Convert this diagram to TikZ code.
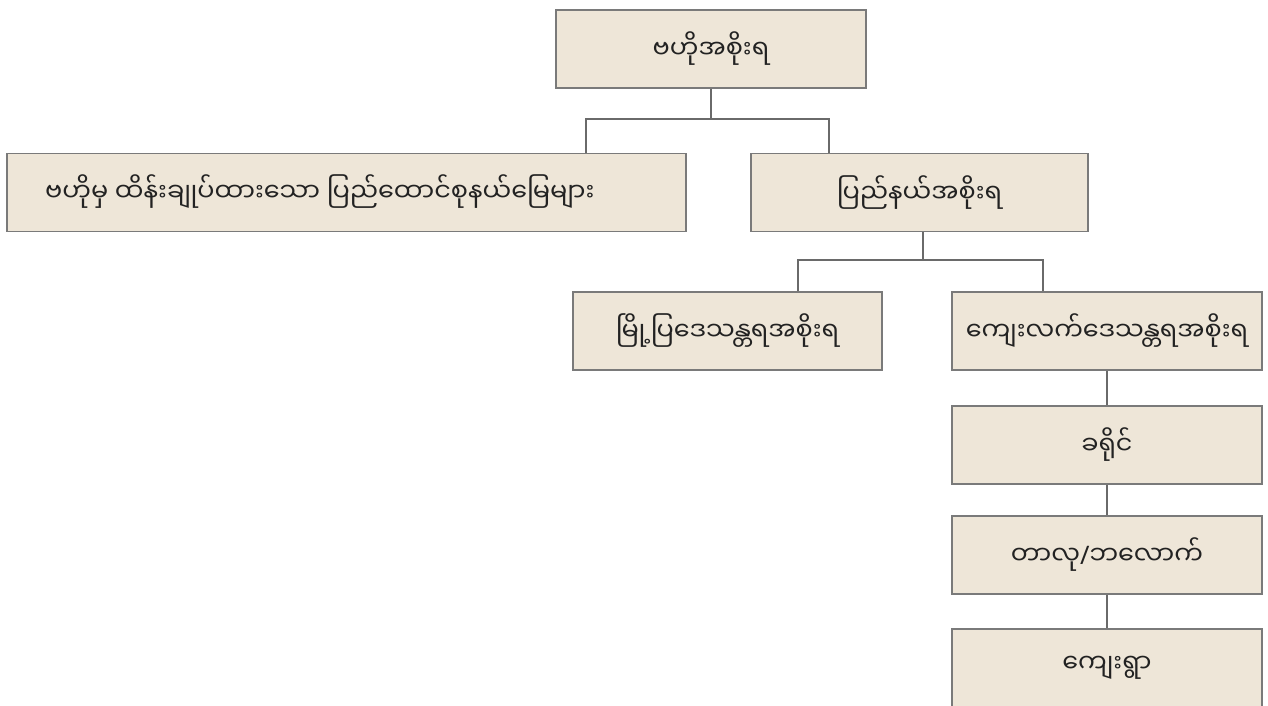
\documentclass[tikz,border=0pt]{standalone}
\usepackage{fontspec}
\newfontfamily\mmfont[Script=Myanmar]{Noto Sans Myanmar UI}
\newfontfamily\latinfont{Noto Sans}
\definecolor{boxfill}{HTML}{EEE6D8}
\definecolor{boxline}{HTML}{7A7A7A}
\definecolor{linkline}{HTML}{6A6A6A}
\definecolor{txt}{HTML}{222222}
\begin{document}
\begin{tikzpicture}[x=1pt,y=-1pt,
  labelfont/.style={text=txt,font=\mmfont\fontsize{25.5}{30}\selectfont},
  orgbox/.style={draw=boxline,fill=boxfill,line width=1.6pt,inner sep=0pt,
    minimum height=78pt,labelfont},
  link/.style={draw=linkline,line width=1.8pt}]
\useasboundingbox (0,0) rectangle (1268,706);
\clip (0,0) rectangle (1268,706);
% boxes
\node[orgbox,minimum width=310pt] (top) at (711,49) {ဗဟိုအစိုးရ};
\node[orgbox,minimum width=679pt] (left) at (346.5,192.5) {};
\node[anchor=west,labelfont,inner sep=0pt] (lefttext) at (45,192) {ဗဟိုမှ ထိန်းချုပ်ထားသော ပြည်ထောင်စုနယ်မြေများ};
\node[orgbox,minimum width=337pt] (right) at (919.5,192.5) {ပြည်နယ်အစိုးရ};
\node[orgbox,minimum width=309pt] (myo) at (727.5,331) {မြို့ပြဒေသန္တရအစိုးရ};
\node[orgbox,minimum width=310pt] (kl) at (1107,331) {ကျေးလက်ဒေသန္တရအစိုးရ};
\node[orgbox,minimum width=310pt] (kh) at (1107,445) {ခရိုင်};
\node[orgbox,minimum width=310pt] (tl) at (1107,555) {တာလု{\latinfont /}ဘလောက်};
\node[orgbox,minimum width=310pt] (ky) at (1107,668) {ကျေးရွာ};
% junction points of the bus lines
\coordinate (j1) at (711,119);
\coordinate (j1L) at (586,119);
\coordinate (j1R) at (829,119);
\coordinate (j2) at (923,260);
\coordinate (j2L) at (798,260);
\coordinate (j2R) at (1043,260);
% connectors
\draw[link] (top.south) -- (j1);
\draw[link] (left.north -| j1L) -- (j1L) -- (j1R) -- (right.north -| j1R);
\draw[link] (right.south -| j2) -- (j2);
\draw[link] (myo.north -| j2L) -- (j2L) -- (j2R) -- (kl.north -| j2R);
\draw[link] (kl.south) -- (kh.north);
\draw[link] (kh.south) -- (tl.north);
\draw[link] (tl.south) -- (ky.north);
\end{tikzpicture}
\end{document}
